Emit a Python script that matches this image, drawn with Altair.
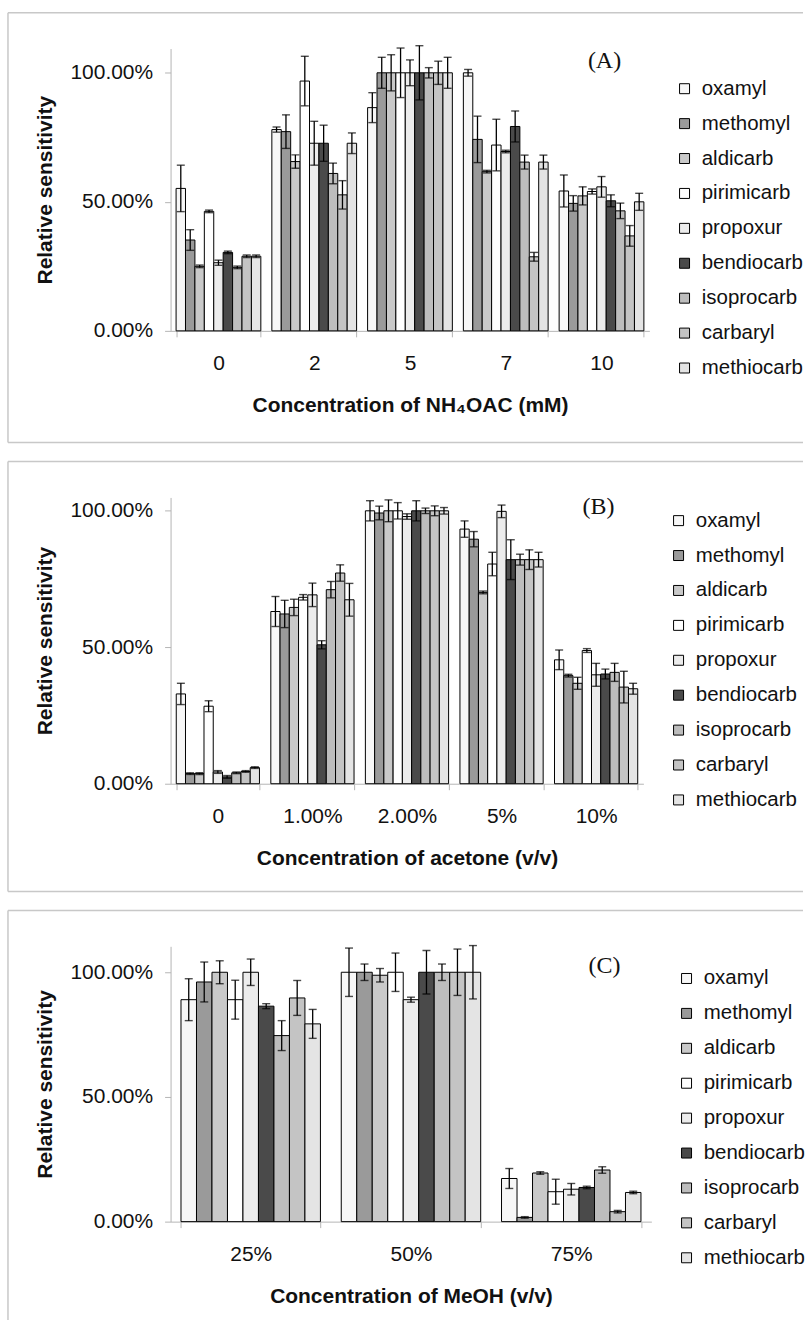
import altair as alt
import pandas as pd

SERIES = ["oxamyl", "methomyl", "aldicarb", "pirimicarb", "propoxur",
          "bendiocarb", "isoprocarb", "carbaryl", "methiocarb"]
FILLS = ["#f7f7f7", "#9a9a9a", "#c9c9c9", "#ffffff", "#ececec",
         "#4a4a4a", "#bdbdbd", "#c4c4c4", "#e4e4e4"]

# Panel A: NH4OAc
A_CATS = ["0", "2", "5", "7", "10"]
A_VAL = [
    [55.2, 35.2, 25.0, 46.3, 26.4, 30.4, 24.6, 28.9, 28.9],
    [78.0, 77.2, 65.6, 96.8, 72.7, 72.7, 61.0, 52.7, 72.7],
    [86.5, 100, 100, 100, 100, 100, 100, 100, 100],
    [100, 74.2, 61.7, 72.0, 69.5, 79.2, 65.4, 28.7, 65.4],
    [54.2, 49.4, 52.3, 54.0, 55.8, 50.4, 46.5, 36.8, 50.0],
]
A_ERR = [
    [9.0, 4.0, 0.5, 0.5, 1.0, 0.5, 0.5, 0.5, 0.5],
    [1.0, 6.5, 2.6, 9.6, 8.5, 7.0, 4.0, 5.5, 4.0],
    [5.8, 6.0, 7.0, 9.6, 5.0, 10.5, 2.0, 4.5, 6.0],
    [1.3, 9.0, 0.5, 10.0, 0.5, 6.0, 2.7, 1.7, 2.7],
    [6.2, 3.0, 3.5, 1.0, 4.0, 2.3, 3.0, 4.0, 3.3],
]

# Panel B: acetone
B_CATS = ["0", "1.00%", "2.00%", "5%", "10%"]
B_VAL = [
    [32.9, 3.7, 3.7, 28.4, 4.3, 2.5, 4.0, 4.5, 5.9],
    [63.1, 62.2, 64.6, 68.3, 69.2, 50.9, 71.1, 77.2, 67.4],
    [100, 99.2, 100, 100, 97.9, 100, 100, 100, 100],
    [93.3, 89.6, 70.1, 80.5, 99.8, 82.1, 82.1, 82.1, 82.1],
    [45.4, 39.6, 36.8, 48.8, 39.9, 40.2, 40.8, 35.4, 34.8],
]
B_ERR = [
    [3.9, 0.3, 0.3, 2.0, 0.5, 0.5, 0.3, 0.3, 0.3],
    [5.5, 5.0, 3.0, 1.0, 4.3, 1.5, 3.0, 3.0, 6.0],
    [3.7, 2.5, 4.0, 3.0, 1.0, 3.7, 1.0, 1.8, 1.2],
    [3.0, 2.8, 0.5, 4.3, 2.3, 7.3, 2.0, 3.6, 2.7],
    [3.6, 0.5, 2.2, 0.7, 4.2, 1.8, 3.3, 5.8, 2.0],
]

# Panel C: MeOH
C_CATS = ["25%", "50%", "75%"]
C_VAL = [
    [89.0, 96.1, 100, 89.0, 100, 86.4, 74.6, 89.7, 79.3],
    [100, 100, 98.8, 100, 89.0, 100, 100, 100, 100],
    [17.3, 1.7, 19.5, 12.0, 13.0, 13.7, 20.7, 4.0, 11.7],
]
C_ERR = [
    [8.4, 8.0, 4.6, 7.8, 5.3, 1.0, 6.0, 7.0, 5.8],
    [9.7, 3.3, 2.7, 7.7, 1.0, 8.7, 3.3, 9.3, 10.7],
    [4.0, 0.3, 0.5, 5.0, 2.3, 0.5, 1.3, 0.5, 0.5],
]

FONT = "Liberation Sans"
FRAME = "#c8c8c8"


def panel(cats, vals, errs, ymax, width, height, pad, letter, lx, ly,
          xtitle, legend_y):
    rows = []
    for ci, c in enumerate(cats):
        for si, s in enumerate(SERIES):
            v = vals[ci][si] / 100.0
            e = errs[ci][si] / 100.0
            rows.append({"cat": c, "series": s, "v": v, "lo": v - e, "hi": v + e})
    df = pd.DataFrame(rows)
    base = alt.Chart(df)
    x = alt.X("cat:N", sort=cats,
              scale=alt.Scale(paddingInner=pad, paddingOuter=pad / 2),
              axis=alt.Axis(title=xtitle, labelAngle=0, tickBand="extent",
                            domainColor="#b5b5b5", tickColor="#b5b5b5",
                            tickSize=6, labelFontSize=21, labelFont=FONT,
                            labelColor="#111", labelPadding=16,
                            titleFont=FONT, titleFontSize=21,
                            titleFontWeight="bold", titleColor="#111",
                            titlePadding=21))
    xo = alt.XOffset("series:N", sort=SERIES,
                     scale=alt.Scale(domain=SERIES, paddingInner=0, paddingOuter=0))
    yscale = alt.Scale(domain=[0, ymax], nice=False, zero=True)
    y = alt.Y("v:Q", scale=yscale,
              axis=alt.Axis(title="Relative sensitivity", values=[0, 0.5, 1.0],
                            format=".2%", grid=False, domainColor="#b5b5b5",
                            tickColor="#b5b5b5", tickSize=6, labelFontSize=21,
                            labelFont=FONT, labelColor="#111", labelPadding=12,
                            titleFont=FONT, titleFontSize=21,
                            titleFontWeight="bold", titleColor="#111",
                            titlePadding=14))
    color = alt.Color("series:N", sort=SERIES,
                      scale=alt.Scale(domain=SERIES, range=FILLS),
                      legend=alt.Legend(title=None, orient="none",
                                        legendX=width + 25, legendY=legend_y,
                                        symbolType="square", symbolSize=100,
                                        symbolStrokeColor="black",
                                        symbolStrokeWidth=1,
                                        labelFont=FONT, labelFontSize=20.5,
                                        labelColor="#111", labelOffset=7,
                                        rowPadding=14, labelLimit=200))
    bars = base.mark_bar(stroke="black", strokeWidth=1).encode(
        x=x, xOffset=xo, y=y, color=color)
    rule = base.mark_rule(color="black", strokeWidth=1.3).encode(
        x=alt.X("cat:N", sort=cats), xOffset=xo,
        y=alt.Y("lo:Q", scale=yscale), y2="hi:Q")
    cap_hi = base.mark_tick(color="black", thickness=1.4, size=8,
                            orient="horizontal").encode(
        x=alt.X("cat:N", sort=cats), xOffset=xo, y=alt.Y("hi:Q", scale=yscale))
    cap_lo = base.mark_tick(color="black", thickness=1.4, size=8,
                            orient="horizontal").encode(
        x=alt.X("cat:N", sort=cats), xOffset=xo, y=alt.Y("lo:Q", scale=yscale))

    one = alt.Chart(pd.DataFrame({"t": [letter]}))
    lab = one.mark_text(font="Liberation Serif", fontSize=24, align="center",
                        baseline="middle", color="#111").encode(
        text="t:N", x=alt.value(lx), y=alt.value(ly))
    left, right, top, bot = -163, 805 - 171, -36, 395
    f_top = one.mark_rule(color=FRAME, strokeWidth=1.5).encode(
        x=alt.value(left), x2=alt.value(right), y=alt.value(top), y2=alt.value(top))
    f_bot = one.mark_rule(color=FRAME, strokeWidth=1.5).encode(
        x=alt.value(left), x2=alt.value(right), y=alt.value(bot), y2=alt.value(bot))
    f_left = one.mark_rule(color=FRAME, strokeWidth=1.5).encode(
        x=alt.value(left), x2=alt.value(left), y=alt.value(top), y2=alt.value(bot))

    return alt.layer(f_top, f_bot, f_left, bars, rule, cap_hi, cap_lo, lab).properties(
        width=width, height=height)


pa = panel(A_CATS, A_VAL, A_ERR, 1.094, 480, 283, 0.115, "(A)", 435, 13,
           "Concentration of NH\u2084OAC (mM)", 30)
pb = panel(B_CATS, B_VAL, B_ERR, 1.049, 474, 287, 0.12, "(B)", 429, 10,
           "Concentration of acetone (v/v)", 13)
pc = panel(C_CATS, C_VAL, C_ERR, 1.104, 482, 276, 0.13, "(C)", 435, 20,
           "Concentration of MeOH (v/v)", 22)

chart = alt.vconcat(pa, pb, pc, spacing=17).resolve_scale(
    x="independent", y="independent", color="independent", xOffset="independent"
).resolve_legend(color="independent").properties(
    padding={"left": 7, "top": 10, "right": 0, "bottom": 0},
    background="white"
).configure_view(strokeWidth=0, stroke="transparent")

chart.save("out.html", embed_options={"renderer": "svg", "actions": False})
